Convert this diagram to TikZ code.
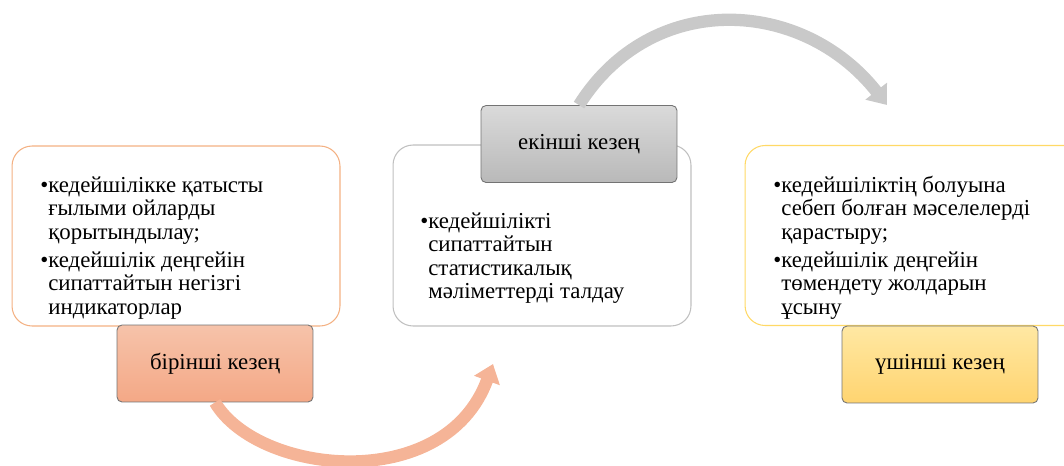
\documentclass[tikz,border=0pt]{standalone}
\usepackage{fontspec}
\setmainfont{Liberation Serif}
\usetikzlibrary{arrows.meta}

\definecolor{peachline}{HTML}{F4B183}
\definecolor{greyline}{HTML}{C0C0C0}
\definecolor{goldline}{HTML}{FFD966}
\definecolor{peachtop}{HTML}{F6C3AA}
\definecolor{peachbot}{HTML}{F4A886}
\definecolor{greytop}{HTML}{DADADA}
\definecolor{greybot}{HTML}{B9B9B9}
\definecolor{goldtop}{HTML}{FFE8A3}
\definecolor{goldbot}{HTML}{FFD470}
\definecolor{peachflow}{HTML}{F5B497}
\definecolor{greyflow}{HTML}{C9C9C9}

\begin{document}
\begin{tikzpicture}[x=0.02cm, y=-0.02cm,
  bigbox/.style = {draw, line width=0.6pt, fill=white, rounded corners=0.4cm, inner sep=0pt},
  stagebox/.style = {draw=black!55, line width=0.5pt, rounded corners=0.1cm,
    minimum width=3.92cm, minimum height=1.54cm, font=\fontsize{13}{15}\selectfont},
  notes/.style = {anchor=base west, inner sep=0pt, font=\fontsize{13}{13.4}\selectfont},
  flow/.style = {line width=7pt, -{Triangle[width=15pt,length=10pt]}}]
  \useasboundingbox (0,0) rectangle (1064,466);
  \clip (0,0) rectangle (1064,466);

  \node[bigbox, draw=peachline, minimum width=6.56cm, minimum height=3.6cm] (box1) at (176,236) {};
  \node[bigbox, draw=greyline, minimum width=5.96cm, minimum height=3.62cm] (box2) at (542,235.5) {};
  \node[bigbox, draw=goldline, minimum width=6.9cm, minimum height=3.6cm] (box3) at (917.5,235.5) {};

  \node[stagebox, top color=peachtop, bottom color=peachbot] (stage1) at (215,363.5) {бірінші кезең};
  \node[stagebox, top color=greytop, bottom color=greybot] (stage2) at (579,144) {екінші кезең};
  \node[stagebox, top color=goldtop, bottom color=goldbot] (stage3) at (940,364.5) {үшінші кезең};

  \coordinate (tip1) at (493,364);
  \coordinate (tip2) at (887,105);
  \draw[flow, peachflow] (stage1.south) .. controls (258,475) and (445,495) .. (tip1);
  \draw[flow, greyflow] (stage2.north) .. controls (652,-11) and (803,-2) .. (tip2);

  \node[notes] (notes1) at (40,192) {\begin{tabular}[t]{@{}l@{}l@{}}
    •&кедейшілікке қатысты\\ &ғылыми ойларды\\ &қорытындылау;\\[2.5pt]
    •&кедейшілік деңгейін\\ &сипаттайтын негізгі\\ &индикаторлар\end{tabular}};
  \node[notes] (notes2) at (420,228) {\begin{tabular}[t]{@{}l@{}l@{}}
    •&кедейшілікті\\ &сипаттайтын\\ &статистикалық\\ &мәліметтерді талдау\end{tabular}};
  \node[notes] (notes3) at (773,192) {\begin{tabular}[t]{@{}l@{}l@{}}
    •&кедейшіліктің болуына\\ &себеп болған мәселелерді\\ &қарастыру;\\[2.5pt]
    •&кедейшілік деңгейін\\ &төмендету жолдарын\\ &ұсыну\end{tabular}};
\end{tikzpicture}
\end{document}
